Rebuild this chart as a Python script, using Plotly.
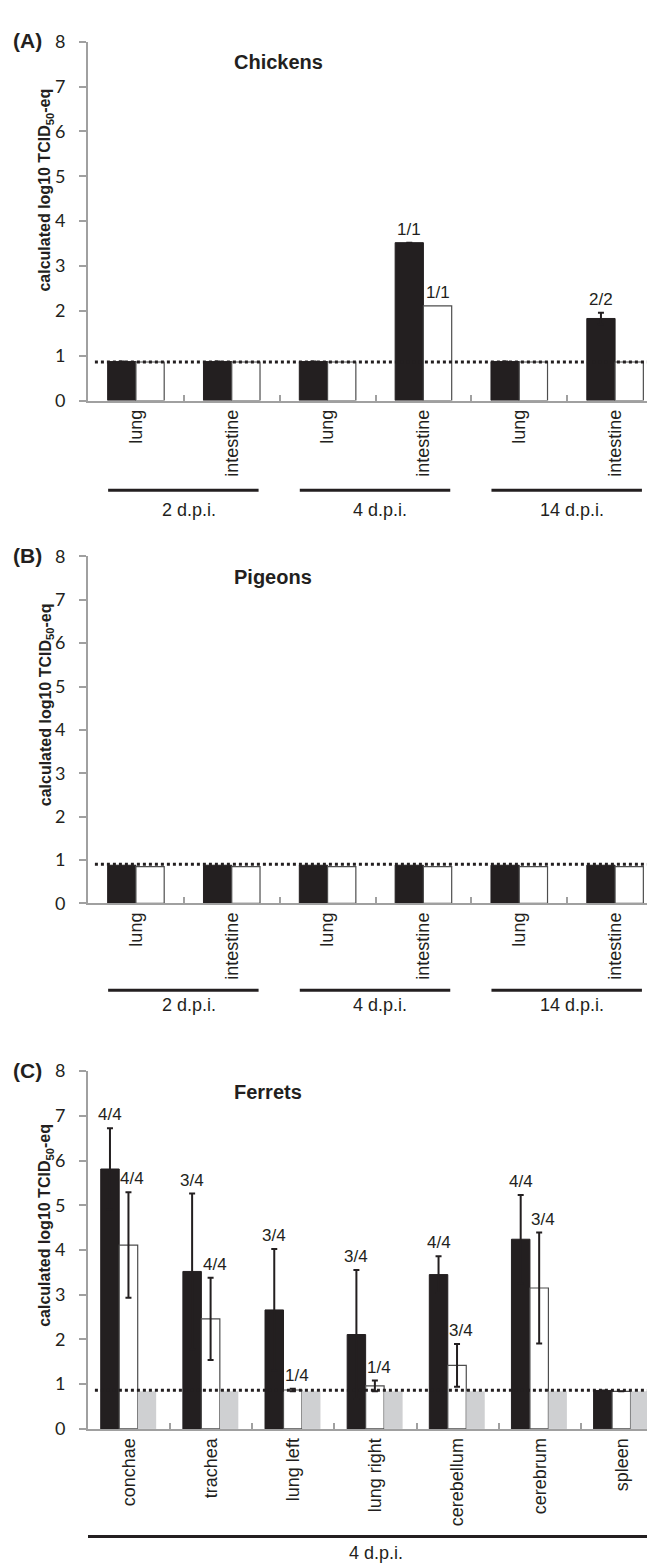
import plotly.graph_objects as go

W, H = 655, 1566

# ---------------- data ----------------
bird_tissues = ["lung", "intestine", "lung", "intestine", "lung", "intestine"]
dpi_groups = ["2 d.p.i.", "4 d.p.i.", "14 d.p.i."]

chick_black = [0.87, 0.87, 0.87, 3.52, 0.87, 1.83]
chick_black_err = [None, None, None, None, None, 0.13]
chick_white = [0.86, 0.86, 0.86, 2.11, 0.86, 0.86]
chick_black_lbl = ["", "", "", "1/1", "", "2/2"]
chick_white_lbl = ["", "", "", "1/1", "", ""]
chick_lod = 0.86

pigeon_black = [0.88, 0.88, 0.88, 0.88, 0.88, 0.88]
pigeon_white = [0.85, 0.85, 0.85, 0.85, 0.85, 0.85]
pigeon_lod = 0.9

ferret_tissues = ["conchae", "trachea", "lung left", "lung right", "cerebellum", "cerebrum", "spleen"]
ferret_group = "4 d.p.i."
ferret_black = [5.81, 3.52, 2.66, 2.11, 3.45, 4.24, 0.86]
ferret_black_err = [0.91, 1.74, 1.36, 1.44, 0.41, 0.99, None]
ferret_white = [4.11, 2.46, 0.87, 0.96, 1.42, 3.15, 0.84]
ferret_white_err = [1.18, 0.92, 0.03, 0.12, 0.48, 1.24, None]
ferret_gray = [0.84, 0.84, 0.84, 0.84, 0.84, 0.84, 0.84]
ferret_black_lbl = ["4/4", "3/4", "3/4", "3/4", "4/4", "4/4", ""]
ferret_white_lbl = ["4/4", "4/4", "1/4", "1/4", "3/4", "3/4", ""]
ferret_lod = 0.865

# ---------------- style ----------------
BLACK = "#231f20"
GRAY_BAR = "#cfd0d2"
AXIS = "#a0a0a0"
TXT = "#231f20"
LAB_FONT = "Liberation Sans, Arial, sans-serif"
NUM_FONT = "Lato, Open Sans, sans-serif"


def px_x(p):
    return p / W


def px_y(p):
    return 1 - p / H


panels = [
    dict(ax="", y0=386, y8=22, title="Chickens", tag="(A)", ytitle_c=173),
    dict(ax="2", y0=896, y8=544, title="Pigeons", tag="(B)", ytitle_c=695),
    dict(ax="3", y0=1429, y8=1066, title="Ferrets", tag="(C)", ytitle_c=1223),
]

fig = go.Figure()
annotations = []
shapes = []

err_style = dict(type="data", visible=True, color=BLACK, thickness=2, width=3)


def add_bars(xref_s, yref_s, xs, ys, errs, width, offset, fill, line_col, line_w):
    kw = {}
    if errs is not None:
        kw["error_y"] = dict(array=errs, **err_style)
    fig.add_trace(go.Bar(
        x=xs, y=ys, width=width, offset=offset,
        marker=dict(color=fill, line=dict(color=line_col, width=line_w)),
        xaxis=xref_s, yaxis=yref_s, showlegend=False, hoverinfo="skip", **kw))


def add_labels(xref_s, yref_s, xs, ys, errs, lbls, center, xshift=0):
    for i, t in enumerate(lbls):
        if not t:
            continue
        top = ys[i] + (errs[i] if errs is not None and errs[i] is not None else 0)
        annotations.append(dict(
            x=xs[i] + center, y=top, xref=xref_s, yref=yref_s,
            text=t, showarrow=False, yanchor="bottom", xanchor="center",
            yshift=2, xshift=xshift,
            font=dict(family=LAB_FONT, size=17, color=TXT)))


# ---------------- bird panels ----------------
bird_x = list(range(len(bird_tissues)))
BW = 0.295
for p, blk, blk_err, wht, lod in [
    (panels[0], chick_black, chick_black_err, chick_white, chick_lod),
    (panels[1], pigeon_black, None, pigeon_white, pigeon_lod),
]:
    xs_ = "x" + p["ax"]
    ys_ = "y" + p["ax"]
    add_bars(xs_, ys_, bird_x, blk, blk_err, BW, -BW, BLACK, BLACK, 1)
    add_bars(xs_, ys_, bird_x, wht, None, BW, 0.0, "white", "#4d4d4d", 1.2)
    p["n"] = len(bird_tissues)
    p["lod"] = lod
    p["ticktext"] = bird_tissues

add_labels("x", "y", bird_x, chick_black, chick_black_err, chick_black_lbl, -BW / 2)
add_labels("x", "y", bird_x, chick_white, None, chick_white_lbl, BW / 2)

# ---------------- ferret panel ----------------
fer_x = list(range(len(ferret_tissues)))
FW = 0.225
add_bars("x3", "y3", fer_x, ferret_black, ferret_black_err, FW, -0.345, BLACK, BLACK, 1)
add_bars("x3", "y3", fer_x, ferret_white, ferret_white_err, FW, -0.12, "white", "#4d4d4d", 1.2)
add_bars("x3", "y3", fer_x, ferret_gray, None, FW, 0.105, GRAY_BAR, GRAY_BAR, 0)
panels[2]["n"] = len(ferret_tissues)
panels[2]["lod"] = ferret_lod
panels[2]["ticktext"] = ferret_tissues
add_labels("x3", "y3", fer_x, ferret_black, ferret_black_err, ferret_black_lbl, -0.345 + FW / 2)
add_labels("x3", "y3", fer_x, ferret_white, ferret_white_err, ferret_white_lbl, -0.12 + FW / 2, xshift=4)

# ---------------- axes & decorations ----------------
layout_axes = {}
for p in panels:
    n = p["n"]
    xname = "xaxis" + p["ax"]
    yname = "yaxis" + p["ax"]
    xs_ = "x" + p["ax"]
    ys_ = "y" + p["ax"]
    layout_axes[xname] = dict(
        domain=[px_x(80), 1], anchor=ys_, range=[-0.5, n - 0.5],
        tickmode="array", tickvals=list(range(n)), ticktext=p["ticktext"],
        tickangle=-90, ticks="", showline=True, linecolor=AXIS, linewidth=2,
        showgrid=False, zeroline=False, ticklabelstandoff=0,
        tickfont=dict(family=LAB_FONT, size=18, color=TXT),
        minor=dict(tickmode="array", tickvals=[i + 0.5 for i in range(n)],
                   ticks="inside", ticklen=6, tickcolor=AXIS, tickwidth=2,
                   showgrid=False),
    )
    layout_axes[yname] = dict(
        domain=[px_y(p["y0"]), px_y(p["y8"])], anchor=xs_, range=[0, 8],
        dtick=1, tick0=0, ticks="outside", ticklen=7, tickcolor=AXIS, tickwidth=2,
        showline=True, linecolor=AXIS, linewidth=2, showgrid=False, zeroline=False,
        ticklabelstandoff=10,
        tickfont=dict(family=NUM_FONT, size=18, color=TXT),
    )
    shapes.append(dict(type="line", xref=xs_ + " domain", yref=ys_,
                       x0=0.012, x1=1, y0=p["lod"], y1=p["lod"],
                       line=dict(color=BLACK, width=3, dash="3px,3px")))
    annotations.append(dict(x=px_x(224), y=px_y(p["y8"] + 21), xref="paper", yref="paper",
                            text="<b>%s</b>" % p["title"], showarrow=False,
                            xanchor="left", yanchor="middle",
                            font=dict(family=LAB_FONT, size=20, color=TXT)))
    annotations.append(dict(x=px_x(3), y=px_y(p["y8"] - 1), xref="paper", yref="paper",
                            text="<b>%s</b>" % p["tag"], showarrow=False,
                            xanchor="left", yanchor="middle",
                            font=dict(family=LAB_FONT, size=21, color=TXT)))
    annotations.append(dict(x=px_x(38), y=px_y(p["ytitle_c"]), xref="paper", yref="paper",
                            text="<b>calculated log10 TCID<sub>50</sub>-eq</b>",
                            showarrow=False, textangle=-90,
                            xanchor="center", yanchor="middle",
                            font=dict(family=LAB_FONT, size=16, color=TXT)))

for p, line_px, text_px in [(panels[0], 477, 497), (panels[1], 984, 999)]:
    xs_ = "x" + p["ax"]
    for g, lab in enumerate(dpi_groups):
        start = 2 * g
        shapes.append(dict(type="line", xref=xs_, yref="paper",
                           x0=start - 0.29, x1=start + 1.28,
                           y0=px_y(line_px), y1=px_y(line_px),
                           line=dict(color=BLACK, width=3)))
        annotations.append(dict(x=start + 0.55, y=px_y(text_px), xref=xs_, yref="paper",
                                text=lab, showarrow=False, xanchor="center", yanchor="middle",
                                font=dict(family=LAB_FONT, size=18, color=TXT)))

nf = len(ferret_tissues)
shapes.append(dict(type="line", xref="x3", yref="paper",
                   x0=-0.61, x1=nf - 0.5, y0=px_y(1538), y1=px_y(1538),
                   line=dict(color=BLACK, width=3)))
annotations.append(dict(x=(nf - 1) / 2, y=px_y(1555), xref="x3", yref="paper",
                        text=ferret_group, showarrow=False, xanchor="center", yanchor="middle",
                        font=dict(family=LAB_FONT, size=18, color=TXT)))

fig.update_layout(
    width=W, height=H,
    margin=dict(l=0, r=0, t=0, b=0),
    paper_bgcolor="white", plot_bgcolor="white",
    barmode="overlay",
    annotations=annotations, shapes=shapes,
    **layout_axes,
)

fig.write_html("out.html")
